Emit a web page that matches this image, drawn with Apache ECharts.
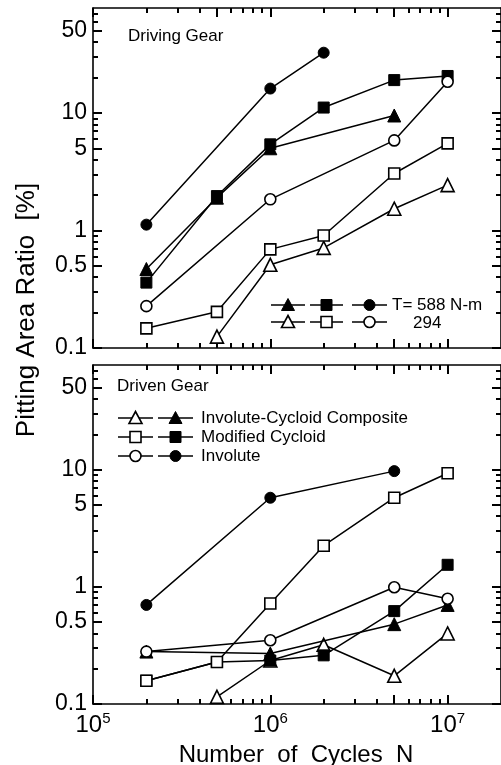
<!DOCTYPE html>
<html>
<head>
<meta charset="utf-8">
<script src="https://cdn.jsdelivr.net/npm/echarts@6/dist/echarts.min.js"></script>
<style>html,body{margin:0;padding:0;background:#fff;}#c{width:501px;height:765px;}</style>
</head>
<body>
<div id="c"></div>
<script>
// ---- data ----
const cycles = [2e5, 5e5, 1e6, 2e6, 5e6, 1e7];
// Driving gear (top panel)
const drivingICC588 = [0.47, 1.9, 5.0, null, 9.5, null];
const drivingMC588  = [0.36, 1.96, 5.4, 11.1, 19.0, 20.6];
const drivingInv588 = [1.12, null, 16.1, 32.5, null, null];
const drivingICC294 = [null, 0.125, 0.51, 0.71, 1.53, 2.43];
const drivingMC294  = [0.147, 0.203, 0.69, 0.906, 3.05, 5.5];
const drivingInv294 = [0.227, null, 1.84, null, 5.83, 18.4];
// Driven gear (bottom panel)
const drivenICC588 = [0.28, null, 0.27, null, 0.48, 0.70];
const drivenMC588  = [0.158, 0.228, 0.235, 0.26, 0.62, 1.54];
const drivenInv588 = [0.70, null, 5.75, null, 9.7, null];
const drivenICC294 = [null, 0.115, 0.235, 0.32, 0.174, 0.40];
const drivenMC294  = [0.158, 0.228, 0.72, 2.24, 5.75, 9.3];
const drivenInv294 = [0.28, null, 0.35, null, 0.99, 0.79];
// ticks
const yMajorTicks = [0.1, 0.5, 1, 5, 10, 50];
const yMinorTicks = [0.2, 0.3, 0.4, 0.6, 0.7, 0.8, 0.9, 2, 3, 4, 6, 7, 8, 9, 20, 30, 40, 60, 70];
const xMajorTicks = [1e5, 5e5, 1e6, 5e6, 1e7];
const xMinorTicks = [2e5, 3e5, 4e5, 6e5, 7e5, 8e5, 9e5, 2e6, 3e6, 4e6, 6e6, 7e6, 8e6, 9e6];
const xLabelTicks = [1e5, 1e6, 1e7];
const panelTitles = ['Driving Gear', 'Driven Gear'];
const xTitle = 'Number  of  Cycles  N';
const yTitle = 'Pitting Area Ratio  [%]';
const topLegendLabels = ['T= 588 N-m', '294'];
const bottomLegendLabels = ['Involute-Cycloid Composite', 'Modified Cycloid', 'Involute'];

// ---- layout ----
const FONT = 'Liberation Sans, Arial, sans-serif';
const X_MIN = 1e5, X_MAX = 2e7, Y_MIN = 0.1, Y_MAX = 78;
const grids = [
  {left: 93, top: 8, right: -2, height: 340},
  {left: 93, top: 365, right: -2, height: 339}
];

function fmtNum(v) { return String(Number(Number(v).toPrecision(3))); }

function tickStyle() { return {color: '#000', width: 2}; }
const xAxes = [], yAxes = [];
grids.forEach((g, gi) => {
  ['bottom', 'top'].forEach(pos => {
    const showLabel = (gi === 1 && pos === 'bottom');
    xAxes.push({
      type: 'log', gridIndex: gi, min: X_MIN, max: X_MAX, logBase: 10, position: pos, splitLine: {show: false},
      axisLine: {show: true, onZero: false, lineStyle: {color: '#000', width: 1.6}},
      axisTick: {show: true, inside: true, length: 9, lineStyle: tickStyle(), customValues: xMajorTicks},
      axisLabel: showLabel ? {
        show: true, customValues: xLabelTicks, margin: 7, color: '#000',
        formatter: v => '{n|10}{s|' + Math.round(Math.log10(v)) + '}',
        rich: {
          n: {fontSize: 24, fontFamily: FONT, color: '#000', lineHeight: 26, verticalAlign: 'bottom'},
          s: {fontSize: 15, fontFamily: FONT, color: '#000', lineHeight: 26, verticalAlign: 'top', padding: [0, 0, 10, 0]}
        }
      } : {show: false}
    });
    xAxes.push({
      type: 'log', gridIndex: gi, min: X_MIN, max: X_MAX, logBase: 10, position: pos, splitLine: {show: false},
      axisLine: {show: false, onZero: false},
      axisTick: {show: true, inside: true, length: 5, lineStyle: tickStyle(), customValues: xMinorTicks},
      axisLabel: {show: false}
    });
  });
  ['left', 'right'].forEach(pos => {
    yAxes.push({
      type: 'log', gridIndex: gi, min: Y_MIN, max: Y_MAX, logBase: 10, position: pos, splitLine: {show: false},
      axisLine: {show: true, onZero: false, lineStyle: {color: '#000', width: 1.6}},
      axisTick: {show: true, inside: true, length: 9, lineStyle: tickStyle(), customValues: yMajorTicks},
      axisLabel: pos === 'left' ? {
        show: true, customValues: yMajorTicks, margin: 6, color: '#000',
        fontSize: 23, fontFamily: FONT, formatter: v => fmtNum(v)
      } : {show: false}
    });
    yAxes.push({
      type: 'log', gridIndex: gi, min: Y_MIN, max: Y_MAX, logBase: 10, position: pos, splitLine: {show: false},
      axisLine: {show: false, onZero: false},
      axisTick: {show: true, inside: true, length: 5, lineStyle: tickStyle(), customValues: yMinorTicks},
      axisLabel: {show: false}
    });
  });
});

const SYM = {tri: ['triangle', 13], sq: ['rect', 11], circ: ['circle', 11]};
function mkSeries(name, values, gi, sym, filled, z) {
  return {
    name: name, type: 'line', xAxisIndex: gi * 4, yAxisIndex: gi * 4,
    data: cycles.map((c, i) => [c, values[i]]).filter(d => d[1] != null),
    symbol: SYM[sym][0], symbolSize: SYM[sym][1], showSymbol: true,
    lineStyle: {color: '#000', width: 1.5},
    itemStyle: filled ? {color: '#000', borderColor: '#000', borderWidth: 1} : {color: '#fff', borderColor: '#000', borderWidth: 1.6},
    z: z, animation: false, silent: true
  };
}

const series = [
  mkSeries('drvICC588', drivingICC588, 0, 'tri', true, 2),
  mkSeries('drvMC588', drivingMC588, 0, 'sq', true, 2),
  mkSeries('drvInv588', drivingInv588, 0, 'circ', true, 2),
  mkSeries('drvICC294', drivingICC294, 0, 'tri', false, 3),
  mkSeries('drvMC294', drivingMC294, 0, 'sq', false, 3),
  mkSeries('drvInv294', drivingInv294, 0, 'circ', false, 3),
  mkSeries('dnICC294', drivenICC294, 1, 'tri', false, 2),
  mkSeries('dnICC588', drivenICC588, 1, 'tri', true, 3),
  mkSeries('dnMC588', drivenMC588, 1, 'sq', true, 3),
  mkSeries('dnInv588', drivenInv588, 1, 'circ', true, 3),
  mkSeries('dnMC294', drivenMC294, 1, 'sq', false, 4),
  mkSeries('dnInv294', drivenInv294, 1, 'circ', false, 4)
];

// ---- legend glyphs via graphic ----
function glyph(x1, x2, y, sym, filled) {
  const cx = (x1 + x2) / 2;
  const style = filled ? {fill: '#000', stroke: '#000', lineWidth: 1} : {fill: '#fff', stroke: '#000', lineWidth: 1.6};
  const els = [{type: 'line', shape: {x1: x1, y1: y, x2: x2, y2: y}, style: {stroke: '#000', lineWidth: 1.5}, z: 10}];
  if (sym === 'tri') {
    els.push({type: 'polygon', shape: {points: [[cx, y - 6.5], [cx + 6.5, y + 5.5], [cx - 6.5, y + 5.5]]}, style: style, z: 11});
  } else if (sym === 'sq') {
    els.push({type: 'rect', shape: {x: cx - 5.5, y: y - 5.5, width: 11, height: 11}, style: style, z: 11});
  } else {
    els.push({type: 'circle', shape: {cx: cx, cy: y, r: 5.5}, style: style, z: 11});
  }
  return els;
}
function txt(x, y, s, size) {
  return {type: 'text', x: x, y: y, z: 12,
    style: {text: s, fill: '#000', font: size + 'px ' + FONT, textVerticalAlign: 'middle'}};
}

let graphics = [];
const syms = ['tri', 'sq', 'circ'];
const topSegs = [[271, 305], [310, 343], [352, 387]];
syms.forEach((s, i) => {
  graphics = graphics.concat(glyph(topSegs[i][0], topSegs[i][1], 305, s, true));
  graphics = graphics.concat(glyph(topSegs[i][0], topSegs[i][1], 322, s, false));
});
graphics.push(txt(392, 305, topLegendLabels[0], 17));
graphics.push(txt(413, 323, topLegendLabels[1], 17));
const botY = [418, 437, 456];
syms.forEach((s, i) => {
  graphics = graphics.concat(glyph(118, 153, botY[i], s, false));
  graphics = graphics.concat(glyph(158, 193, botY[i], s, true));
  graphics.push(txt(201, botY[i], bottomLegendLabels[i], 17));
});
graphics.push(txt(128, 36, panelTitles[0], 17));
graphics.push(txt(117, 386, panelTitles[1], 17));
graphics.push({type: 'text', x: 296, y: 755, z: 12,
  style: {text: xTitle, fill: '#000', font: '24px ' + FONT, textAlign: 'center', textVerticalAlign: 'middle'}});
graphics.push({type: 'text', x: 27, y: 310, rotation: Math.PI / 2, z: 12,
  style: {text: yTitle, fill: '#000', font: '26px ' + FONT, textAlign: 'center', textVerticalAlign: 'middle'}});

const chart = echarts.init(document.getElementById('c'), null, {renderer: 'canvas'});
chart.setOption({
  backgroundColor: '#fff',
  animation: false,
  grid: grids,
  xAxis: xAxes,
  yAxis: yAxes,
  series: series,
  graphic: graphics
});
</script>
</body>
</html>
